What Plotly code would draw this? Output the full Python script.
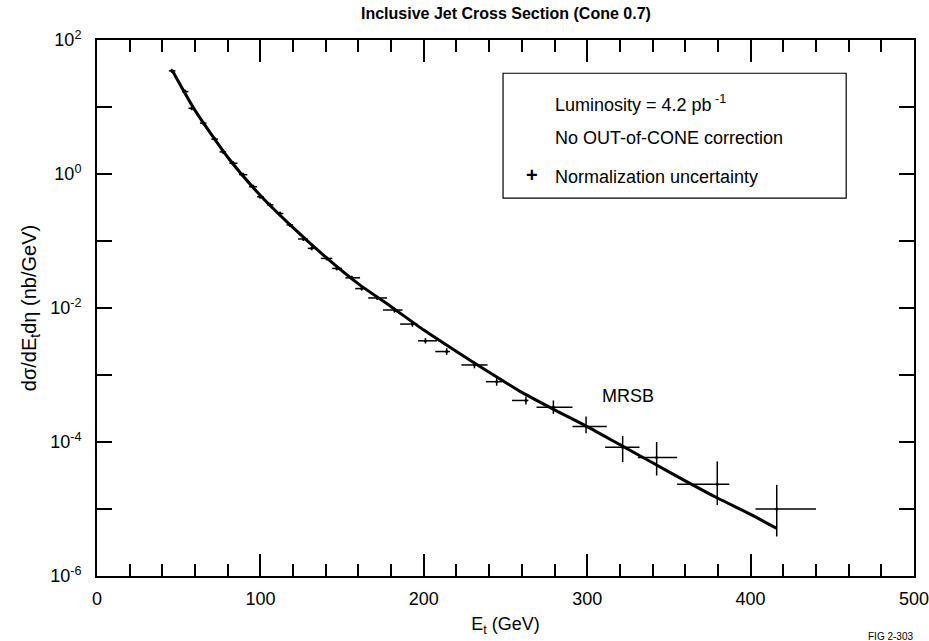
import numpy as np
import plotly.graph_objects as go

# ---------------- data ----------------
# Measured points: jet E_t (GeV), log10 of cross section (nb/GeV)
et = [45.7, 53.9, 58.0, 65.1, 72.2, 77.3, 83.4, 89.5, 95.7, 99.8, 105.9, 112.0, 118.1,
      126.3, 131.4, 140.6, 146.7, 156.0, 162.0, 171.5, 182.0, 193.0, 201.0, 214.0,
      231.0, 244.6, 262.5, 279.3, 299.3, 321.7, 342.5, 379.6, 416.0]
log_xs = [1.54, 1.23, 0.98, 0.76, 0.52, 0.33, 0.16, -0.01, -0.19, -0.34, -0.46, -0.59, -0.76,
          -0.97, -1.11, -1.26, -1.41, -1.55, -1.71, -1.85, -2.03, -2.24, -2.49, -2.65,
          -2.85, -3.10, -3.38, -3.48, -3.77, -4.08, -4.23, -4.63, -5.00]
# bin edges (GeV)
bin_lo = [44, 52, 56, 63, 70, 75, 81, 87, 93, 98, 104, 110, 116,
          123, 129, 137, 144, 152, 158, 166, 175, 185.5, 196.5, 207,
          223, 238, 254, 269, 291, 311, 331, 355, 403]
bin_hi = [48, 56, 60, 67, 74, 79, 86, 92, 98, 102, 108, 114, 120,
          129, 134, 144, 150, 161, 165, 177.5, 187, 196, 208, 216,
          239, 248, 264, 291, 312, 332, 355, 387, 440]
# vertical error extents in decades
err_up_dex = [0.03] * 20 + [0.04, 0.04, 0.04, 0.05, 0.05, 0.06, 0.06, 0.10, 0.15, 0.17, 0.23, 0.34, 0.36]
err_dn_dex = [0.03] * 20 + [0.04, 0.04, 0.04, 0.05, 0.05, 0.06, 0.06, 0.10, 0.10, 0.22, 0.27, 0.31, 0.41]

# MRSB theory curve
curve_et = [46, 60, 80, 100, 120, 140, 160, 180, 200, 220, 240, 260, 280, 300, 320, 340, 360, 380, 400, 416]
curve_log = [1.55, 0.95, 0.25, -0.32, -0.80, -1.24, -1.64, -1.98, -2.33, -2.65, -2.96, -3.26, -3.52,
             -3.77, -4.04, -4.31, -4.58, -4.84, -5.08, -5.29]

x_ticks = [0, 100, 200, 300, 400, 500]
y_tickvals = [1e-6, 1e-5, 1e-4, 1e-3, 1e-2, 1e-1, 1e0, 1e1, 1e2]
y_ticktext = ["10<sup>-6</sup>", "", "10<sup>-4</sup>", "", "10<sup>-2</sup>", "",
              "10<sup>0</sup>", "", "10<sup>2</sup>"]

# ---------------- derived ----------------
et_a = np.array(et)
y = 10 ** np.array(log_xs)
ex_minus = et_a - np.array(bin_lo)
ex_plus = np.array(bin_hi) - et_a
ey_plus = y * (10 ** np.array(err_up_dex) - 1)
ey_minus = y * (1 - 10 ** (-np.array(err_dn_dex)))
curve_y = 10 ** np.array(curve_log)

FONT = "Liberation Sans, Arial, sans-serif"

fig = go.Figure()
fig.add_trace(go.Scatter(
    x=curve_et, y=curve_y, mode="lines",
    line=dict(color="black", width=3, shape="spline", smoothing=0.6),
    showlegend=False, hoverinfo="skip"))
fig.add_trace(go.Scatter(
    x=et, y=y, mode="markers",
    marker=dict(color="black", size=3),
    error_x=dict(type="data", array=ex_plus, arrayminus=ex_minus, symmetric=False,
                 color="black", thickness=1.5, width=0),
    error_y=dict(type="data", array=ey_plus, arrayminus=ey_minus, symmetric=False,
                 color="black", thickness=1.5, width=0),
    showlegend=False))

fig.update_layout(
    width=929, height=641,
    margin=dict(l=97, r=15, t=40, b=65),
    paper_bgcolor="white", plot_bgcolor="white",
    font=dict(family=FONT, color="black", size=16),
    showlegend=False,
)
fig.update_xaxes(
    range=[0, 500], tickvals=x_ticks, ticktext=[str(v) for v in x_ticks],
    ticks="inside", ticklen=22, tickwidth=2, tickcolor="black",
    minor=dict(dtick=20, ticks="inside", ticklen=12, tickwidth=1.5, tickcolor="black"),
    showline=True, linewidth=2, linecolor="black", mirror="ticks",
    showgrid=False, zeroline=False, ticklabelstandoff=5,
    automargin=False, ticklabeloverflow="allow",
    tickfont=dict(size=18, family=FONT),
    title=dict(text="E<sub>t</sub> (GeV)", font=dict(size=18, family=FONT), standoff=10),
)
fig.update_yaxes(
    type="log", range=[-6, 2], tickvals=y_tickvals, ticktext=y_ticktext,
    ticks="inside", ticklen=15, tickwidth=1.5, tickcolor="black",
    showline=True, linewidth=2, linecolor="black", mirror="ticks",
    showgrid=False, zeroline=False, ticklabelstandoff=10,
    automargin=False, ticklabeloverflow="allow",
    tickfont=dict(size=18, family=FONT),
    title=dict(text="dσ/dE<sub>t</sub>dη (nb/GeV)", font=dict(size=20, family=FONT), standoff=8),
)

# title
fig.add_annotation(text="<b>Inclusive Jet Cross Section (Cone 0.7)</b>", xref="paper", yref="paper",
                   x=0.5, y=1.0, yshift=27, showarrow=False, xanchor="center", yanchor="middle",
                   font=dict(size=16, family=FONT))
# legend box
fig.add_shape(type="rect", xref="paper", yref="paper", x0=0.497, x1=0.917, y0=0.705, y1=0.938,
              line=dict(color="black", width=1.2), fillcolor="white")
fig.add_annotation(text="Luminosity = 4.2 pb<sup> -1</sup>", xref="paper", yref="paper",
                   x=0.558, y=0.881, showarrow=False, xanchor="left", yanchor="middle",
                   font=dict(size=18, family=FONT))
fig.add_annotation(text="No OUT-of-CONE correction", xref="paper", yref="paper",
                   x=0.558, y=0.817, showarrow=False, xanchor="left", yanchor="middle",
                   font=dict(size=18, family=FONT))
fig.add_annotation(text="<b>+</b>", xref="paper", yref="paper",
                   x=0.532, y=0.748, showarrow=False, xanchor="center", yanchor="middle",
                   font=dict(size=20, family=FONT))
fig.add_annotation(text="Normalization uncertainty", xref="paper", yref="paper",
                   x=0.558, y=0.744, showarrow=False, xanchor="left", yanchor="middle",
                   font=dict(size=18, family=FONT))
# MRSB label
fig.add_annotation(text="MRSB", xref="paper", yref="paper",
                   x=0.616, y=0.336, showarrow=False, xanchor="left", yanchor="middle",
                   font=dict(size=18, family=FONT))
# figure id (cut off at page edge)
fig.add_annotation(text="FIG 2-303", xref="paper", yref="paper",
                   x=0.941, y=0, yshift=-60, showarrow=False, xanchor="left", yanchor="middle",
                   font=dict(size=10, family=FONT))

fig.write_html("out.html")
